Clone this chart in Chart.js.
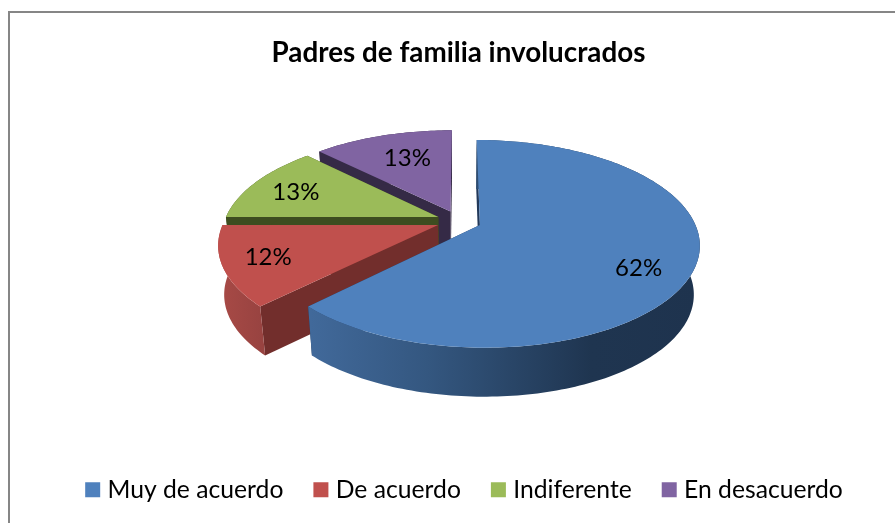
<!DOCTYPE html>
<html><head><meta charset="utf-8">
<style>
html,body{margin:0;padding:0;background:#fff;overflow:hidden;width:895px;height:523px}
#frame{position:absolute;left:8px;top:11px;right:-20px;bottom:-20px;border-left:2px solid #868686;border-top:2px solid #868686}
canvas{position:absolute;left:0;top:0}
</style>
<script src="https://cdn.jsdelivr.net/npm/chart.js@4"></script>
</head><body>
<div id="frame"></div>
<canvas id="c" width="895" height="523"></canvas>
<script>
const chartTitle = 'Padres de familia involucrados';
const categories = ['Muy de acuerdo', 'De acuerdo', 'Indiferente', 'En desacuerdo'];
const shares = [62.5, 12.5, 12.5, 12.5];
const percentLabels = ['62%', '12%', '13%', '13%'];
const topColors = ['#4F81BD', '#C0504D', '#9BBB59', '#8064A2'];
const wallColors = ['#22395A', '#722E2C', '#3E4D20', '#352A46'];

const FONT = 'Lato, Carlito, Calibri, sans-serif';
const VIEW = {cx: 459, cy: 221, a: 214, b: 99, k: 0.18, explode: 0.105, depth: 49, taper: 0.975};
const LABEL_R = [0.75, 0.8, 0.77, 0.6];
const LABEL_DY = [13, 0, 3, -5];

function project(u, v) {
  const w = 1 - VIEW.k * v;
  return [VIEW.cx + VIEW.a * u / w, VIEW.cy + VIEW.b * v / w];
}
function slicePoints(el) {
  const mid = (el.startAngle + el.endAngle) / 2;
  const ou = VIEW.explode * Math.cos(mid), ov = VIEW.explode * Math.sin(mid);
  const n = Math.max(8, Math.ceil((el.endAngle - el.startAngle) / 0.02));
  const arc = [];
  for (let i = 0; i <= n; i++) {
    const t = el.startAngle + (el.endAngle - el.startAngle) * i / n;
    arc.push(project(ou + Math.cos(t), ov + Math.sin(t)));
  }
  return {apex: project(ou, ov), arc, ou, ov, mid};
}
function poly(ctx, pts, fill) {
  ctx.beginPath();
  pts.forEach((p, i) => i ? ctx.lineTo(p[0], p[1]) : ctx.moveTo(p[0], p[1]));
  ctx.closePath();
  ctx.fillStyle = fill;
  ctx.fill();
}
function down(pts) {
  return pts.map(p => [VIEW.cx + (p[0] - VIEW.cx) * VIEW.taper, p[1] + VIEW.depth]);
}
function wallFill(ctx, i) {
  if (i === 0) {
    const g = ctx.createLinearGradient(311, 0, 700, 0);
    g.addColorStop(0, '#41699A');
    g.addColorStop(0.3, '#345780');
    g.addColorStop(0.72, '#1F3550');
    g.addColorStop(1, '#1E334E');
    return g;
  }
  if (i === 1) {
    const g = ctx.createLinearGradient(219, 0, 268, 0);
    g.addColorStop(0, '#A84A46');
    g.addColorStop(1, '#964240');
    return g;
  }
  return wallColors[i];
}

const pie3d = {
  id: 'pie3d',
  afterLayout(chart) {
    chart.titleBlock.left += 11; chart.titleBlock.right += 11;
    chart.legend.left += 19; chart.legend.right += 19;
    chart.legend.top -= 11; chart.legend.bottom -= 11;
  },
  beforeDatasetDraw() { return false; },
  afterDatasetsDraw(chart) {
    const ctx = chart.ctx, els = chart.getDatasetMeta(0).data;
    ctx.save();
    [3, 2, 1, 0].forEach(i => {
      const s = slicePoints(els[i]);
      const first = s.arc[0], last = s.arc[s.arc.length - 1];
      poly(ctx, [s.apex, first, ...down([first, s.apex])], wallColors[i]);
      poly(ctx, [s.apex, last, ...down([last, s.apex])], wallColors[i]);
      poly(ctx, [...s.arc, ...down(s.arc).reverse()], wallFill(ctx, i));
      poly(ctx, [s.apex, ...s.arc], els[i].options.backgroundColor);
    });
    ctx.fillStyle = '#000';
    ctx.font = '24px ' + FONT;
    ctx.textAlign = 'center';
    ctx.textBaseline = 'middle';
    els.forEach((el, i) => {
      const s = slicePoints(el);
      const p = project(s.ou + LABEL_R[i] * Math.cos(s.mid), s.ov + LABEL_R[i] * Math.sin(s.mid));
      ctx.fillText(percentLabels[i], p[0], p[1] + LABEL_DY[i]);
    });
    ctx.restore();
  }
};

new Chart(document.getElementById('c'), {
  type: 'pie',
  data: {labels: categories, datasets: [{data: shares, backgroundColor: topColors, borderWidth: 0}]},
  plugins: [pie3d],
  options: {
    responsive: false,
    animation: false,
    events: [],
    plugins: {
      tooltip: {enabled: false},
      title: {display: true, text: chartTitle, color: '#000',
        font: {family: FONT, size: 27.8, weight: 'bold'}, padding: {top: 36, bottom: 10}},
      legend: {position: 'bottom', labels: {
        color: '#000', font: {family: FONT, size: 24.7},
        boxWidth: 5, boxHeight: 5, padding: 35,
        generateLabels(chart) {
          return Chart.overrides.pie.plugins.legend.labels.generateLabels(chart)
            .map(it => Object.assign(it, {strokeStyle: it.fillStyle, lineWidth: 10, fontColor: '#000'}));
        }
      }}
    }
  }
});
</script>
</body></html>
